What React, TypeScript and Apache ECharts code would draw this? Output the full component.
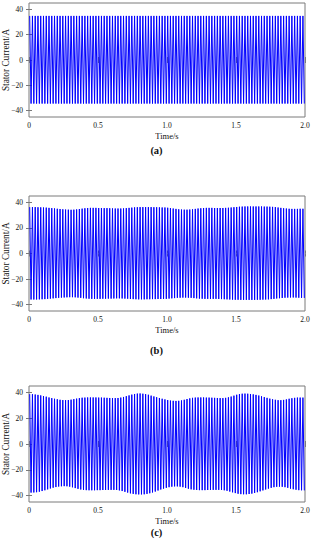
import React, { useEffect, useRef } from "react";
import * as echarts from "echarts";

// Supply frequency 50 Hz -> one cycle every 0.02 s; each cycle is drawn from its positive and negative peak.
const CYCLE_PERIOD = 0.02;

const Y_TICKS = [-40, -20, 0, 20, 40];
const PANEL_LABELS = ["(a)", "(b)", "(c)"];

// (a) positive / negative peak of each cycle (A)
const peaksUpA = [
  34.8, 34.8, 34.8, 34.8, 34.8, 34.8, 34.8, 34.8, 34.8, 34.8,
  34.8, 34.8, 34.8, 34.8, 34.8, 34.8, 34.8, 34.8, 34.8, 34.8,
  34.8, 34.8, 34.8, 34.8, 34.8, 34.8, 34.8, 34.8, 34.8, 34.8,
  34.8, 34.8, 34.8, 34.8, 34.8, 34.8, 34.8, 34.8, 34.8, 34.8,
  34.8, 34.8, 34.8, 34.8, 34.8, 34.8, 34.8, 34.8, 34.8, 34.8,
  34.8, 34.8, 34.8, 34.8, 34.8, 34.8, 34.8, 34.8, 34.8, 34.8,
  34.8, 34.8, 34.8, 34.8, 34.8, 34.8, 34.8, 34.8, 34.8, 34.8,
  34.8, 34.8, 34.8, 34.8, 34.8, 34.8, 34.8, 34.8, 34.8, 34.8,
  34.8, 34.8, 34.8, 34.8, 34.8, 34.8, 34.8, 34.8, 34.8, 34.8,
  34.8, 34.8, 34.8, 34.8, 34.8, 34.8, 34.8, 34.8, 34.8, 34.8,
];
const peaksLoA = [
  -34.4, -34.4, -34.4, -34.4, -34.4, -34.4, -34.4, -34.4, -34.4, -34.4,
  -34.4, -34.4, -34.4, -34.4, -34.4, -34.4, -34.4, -34.4, -34.4, -34.4,
  -34.4, -34.4, -34.4, -34.4, -34.4, -34.4, -34.4, -34.4, -34.4, -34.4,
  -34.4, -34.4, -34.4, -34.4, -34.4, -34.4, -34.4, -34.4, -34.4, -34.4,
  -34.4, -34.4, -34.4, -34.4, -34.4, -34.4, -34.4, -34.4, -34.4, -34.4,
  -34.4, -34.4, -34.4, -34.4, -34.4, -34.4, -34.4, -34.4, -34.4, -34.4,
  -34.4, -34.4, -34.4, -34.4, -34.4, -34.4, -34.4, -34.4, -34.4, -34.4,
  -34.4, -34.4, -34.4, -34.4, -34.4, -34.4, -34.4, -34.4, -34.4, -34.4,
  -34.4, -34.4, -34.4, -34.4, -34.4, -34.4, -34.4, -34.4, -34.4, -34.4,
  -34.4, -34.4, -34.4, -34.4, -34.4, -34.4, -34.4, -34.4, -34.4, -34.4,
];

// (b)
const peaksUpB = [
  36.3, 36.3, 36.3, 36.2, 36.1, 36.0, 35.9, 35.7, 35.5, 35.3,
  35.0, 34.8, 34.6, 34.4, 34.3, 34.2, 34.3, 34.5, 34.8, 35.1,
  35.4, 35.6, 35.7, 35.7, 35.7, 35.6, 35.6, 35.5, 35.5, 35.4,
  35.3, 35.2, 35.2, 35.2, 35.3, 35.5, 35.7, 35.9, 36.1, 36.2,
  36.3, 36.3, 36.3, 36.3, 36.3, 36.2, 36.2, 36.1, 36.0, 36.0,
  35.8, 35.5, 35.2, 34.9, 34.6, 34.4, 34.3, 34.3, 34.4, 34.6,
  34.9, 35.2, 35.4, 35.6, 35.7, 35.7, 35.7, 35.6, 35.6, 35.6,
  35.6, 35.7, 35.8, 36.0, 36.2, 36.4, 36.6, 36.7, 36.8, 36.8,
  36.8, 36.8, 36.8, 36.8, 36.8, 36.7, 36.7, 36.6, 36.5, 36.3,
  36.0, 35.7, 35.4, 35.2, 35.0, 34.9, 34.9, 34.9, 35.0, 35.0,
];
const peaksLoB = [
  -36.0, -36.0, -36.0, -35.9, -35.8, -35.7, -35.5, -35.3, -35.1, -34.9,
  -34.7, -34.5, -34.4, -34.3, -34.2, -34.2, -34.3, -34.5, -34.7, -35.0,
  -35.2, -35.4, -35.5, -35.5, -35.5, -35.5, -35.4, -35.4, -35.3, -35.3,
  -35.2, -35.1, -35.1, -35.2, -35.3, -35.4, -35.6, -35.7, -35.8, -35.9,
  -35.9, -35.9, -35.8, -35.8, -35.7, -35.7, -35.6, -35.6, -35.5, -35.5,
  -35.3, -35.1, -34.9, -34.7, -34.6, -34.5, -34.5, -34.6, -34.7, -34.9,
  -35.1, -35.3, -35.4, -35.5, -35.5, -35.5, -35.5, -35.5, -35.6, -35.7,
  -35.8, -35.9, -36.0, -36.1, -36.2, -36.2, -36.3, -36.3, -36.3, -36.3,
  -36.3, -36.3, -36.2, -36.2, -36.1, -36.0, -35.9, -35.7, -35.5, -35.2,
  -35.0, -34.8, -34.6, -34.5, -34.4, -34.4, -34.5, -34.6, -34.7, -34.8,
];

// (c)
const peaksUpC = [
  38.7, 38.6, 38.4, 38.1, 37.7, 37.2, 36.7, 36.1, 35.6, 35.1,
  34.7, 34.3, 34.1, 34.0, 34.1, 34.4, 34.8, 35.2, 35.6, 35.9,
  36.0, 36.1, 36.1, 36.1, 36.1, 36.0, 36.0, 35.9, 35.8, 35.7,
  35.6, 35.6, 35.7, 36.0, 36.5, 37.1, 37.7, 38.3, 38.8, 39.1,
  39.2, 39.0, 38.7, 38.2, 37.5, 36.9, 36.3, 35.7, 35.1, 34.6,
  34.1, 33.7, 33.5, 33.4, 33.5, 33.8, 34.3, 34.9, 35.4, 35.8,
  36.0, 36.1, 36.1, 36.1, 36.0, 36.0, 35.9, 35.8, 35.7, 35.6,
  35.6, 35.8, 36.2, 36.8, 37.5, 38.2, 38.7, 39.0, 39.1, 39.0,
  38.8, 38.5, 38.1, 37.6, 37.0, 36.4, 35.8, 35.2, 34.7, 34.3,
  34.0, 34.0, 34.2, 34.6, 35.1, 35.5, 35.8, 36.0, 36.0, 36.0,
];
const peaksLoC = [
  -37.7, -37.6, -37.4, -37.0, -36.5, -35.9, -35.2, -34.5, -33.9, -33.4,
  -33.0, -32.8, -32.7, -32.8, -33.1, -33.6, -34.2, -34.8, -35.3, -35.6,
  -35.8, -35.9, -35.9, -35.9, -35.8, -35.8, -35.7, -35.7, -35.6, -35.6,
  -35.6, -35.7, -36.0, -36.5, -37.1, -37.7, -38.3, -38.7, -39.0, -39.1,
  -39.1, -39.0, -38.7, -38.2, -37.6, -36.9, -36.1, -35.3, -34.6, -34.0,
  -33.5, -33.1, -32.9, -32.9, -33.1, -33.5, -34.1, -34.7, -35.2, -35.5,
  -35.7, -35.8, -35.8, -35.8, -35.7, -35.7, -35.6, -35.6, -35.6, -35.7,
  -35.9, -36.3, -36.9, -37.5, -38.1, -38.6, -38.9, -39.0, -39.0, -38.8,
  -38.5, -38.0, -37.4, -36.7, -36.0, -35.3, -34.6, -34.0, -33.5, -33.2,
  -33.1, -33.2, -33.5, -34.0, -34.6, -35.1, -35.5, -35.8, -35.9, -36.0,
];

const PANELS = [
  { up: peaksUpA, lo: peaksLoA },
  { up: peaksUpB, lo: peaksLoB },
  { up: peaksUpC, lo: peaksLoC },
];

function buildWave(up: number[], lo: number[]): [number, number][] {
  const pts: [number, number][] = [];
  up.forEach((v, k) => {
    pts.push([k * CYCLE_PERIOD + CYCLE_PERIOD / 4, v]);
    pts.push([k * CYCLE_PERIOD + (3 * CYCLE_PERIOD) / 4, lo[k]]);
  });
  return pts;
}

const FONT = "Liberation Serif";
const GRID_LAYOUT = [
  { top: 3, height: 114, labelY: 151 },
  { top: 196, height: 115, labelY: 351 },
  { top: 386, height: 116, labelY: 533 },
];
const BOX = "#7a7a7a";
const TXT = "#111111";

export default function App() {
  const ref = useRef<HTMLDivElement>(null);
  useEffect(() => {
    if (!ref.current) return;
    const chart = echarts.init(ref.current, undefined, { renderer: "svg" });
    const grid: any[] = [];
    const xAxis: any[] = [];
    const yAxis: any[] = [];
    const series: any[] = [];
    const graphic: any[] = [];
    PANELS.forEach((p, i) => {
      const g = GRID_LAYOUT[i];
      grid.push({
        left: 29,
        right: 8,
        top: g.top,
        height: g.height,
        show: true,
        borderColor: BOX,
        borderWidth: 1,
        backgroundColor: "#fff",
        containLabel: false,
        outerBoundsMode: "none",
      });
      const xBase = {
        type: "value",
        gridIndex: i,
        min: 0,
        max: 2,
        interval: 0.5,
        splitLine: { show: false },
        axisLine: { show: false },
        axisTick: { show: true, inside: true, length: 3, lineStyle: { color: BOX } },
      };
      xAxis.push({
        ...xBase,
        position: "bottom",
        name: "Time/s",
        nameLocation: "middle",
        nameGap: 14,
        nameMoveOverlap: false,
        nameTextStyle: { fontFamily: FONT, fontSize: 8.5, color: TXT },
        axisLabel: {
          show: true,
          margin: 4,
          fontFamily: FONT,
          fontSize: 7.5,
          color: TXT,
          formatter: (v: number) => (v === 0 ? "0" : v.toFixed(1)),
        },
      });
      xAxis.push({ ...xBase, position: "top", axisLabel: { show: false } });
      const yBase = {
        type: "value",
        gridIndex: i,
        min: -45,
        max: 45,
        splitLine: { show: false },
        axisLine: { show: false },
        axisTick: {
          show: true,
          inside: true,
          length: 3,
          customValues: Y_TICKS,
          lineStyle: { color: BOX },
        },
      };
      yAxis.push({
        ...yBase,
        position: "left",
        name: "Stator Current/A",
        nameLocation: "middle",
        nameGap: 19,
        nameMoveOverlap: false,
        nameTextStyle: { fontFamily: FONT, fontSize: 9.3, color: TXT },
        axisLabel: {
          show: true,
          margin: 6,
          fontFamily: FONT,
          fontSize: 7.5,
          color: TXT,
          customValues: Y_TICKS,
          formatter: (v: number) => (v < 0 ? "\u2212" + Math.abs(v) : String(v)),
        },
      });
      yAxis.push({ ...yBase, position: "right", axisLabel: { show: false } });
      series.push({
        type: "line",
        xAxisIndex: i * 2,
        yAxisIndex: i * 2,
        data: buildWave(p.up, p.lo),
        showSymbol: false,
        symbol: "none",
        lineStyle: { color: "#0000ff", width: 1 },
        silent: true,
      });
      graphic.push({
        type: "text",
        left: "center",
        top: g.labelY - 6,
        style: {
          text: PANEL_LABELS[i],
          fontFamily: FONT,
          fontWeight: "bold",
          fontSize: 10.5,
          fill: "#111",
        },
      });
    });
    chart.setOption({
      animation: false,
      grid,
      xAxis,
      yAxis,
      series,
      graphic,
    });
    return () => chart.dispose();
  }, []);
  return (
    <div
      ref={ref}
      style={{ position: "absolute", left: 0, top: 0, width: 313, height: 550, background: "#fff" }}
    />
  );
}
